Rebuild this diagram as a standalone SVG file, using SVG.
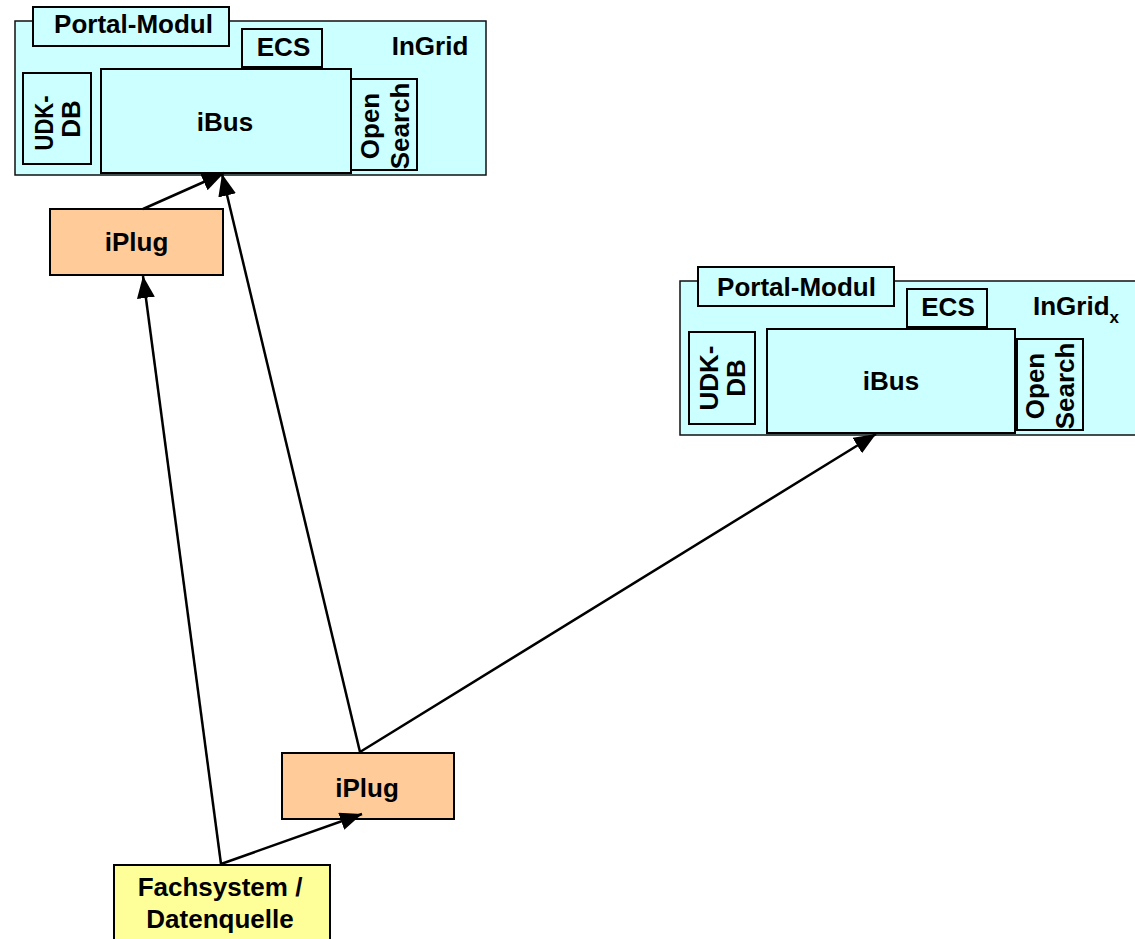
<svg xmlns="http://www.w3.org/2000/svg" width="1135" height="939" viewBox="0 0 1135 939">
<defs>
<style>
.bg{fill:#CCFFFF;stroke:#111;stroke-width:1.5}
.cy{fill:#CCFFFF;stroke:#000;stroke-width:2}
.or{fill:#FFCC99;stroke:#000;stroke-width:2}
.ye{fill:#FFFF99;stroke:#000;stroke-width:2}
text{font-family:"Liberation Sans",Arial,sans-serif;font-weight:bold;font-size:26px;fill:#000}
.m{text-anchor:middle}
.c{stroke:#000;stroke-width:2.5;fill:none;marker-end:url(#ah)}
</style>
<marker id="ah" markerUnits="userSpaceOnUse" markerWidth="24" markerHeight="20" refX="22" refY="9" orient="auto">
<path d="M0,0 L22,9 L0,18 z" fill="#000"/>
</marker>
</defs>
<rect width="1135" height="939" fill="#fff"/>

<g id="ingrid1">
<rect class="bg" x="15" y="21" width="471" height="154"/>
<text class="m" x="430" y="55">InGrid</text>
</g>
<g id="portal1">
<rect class="cy" x="33" y="7" width="196" height="39"/>
<text class="m" x="133.5" y="33">Portal-Modul</text>
</g>
<g id="ecs1">
<rect class="cy" x="242" y="29" width="80" height="38"/>
<text class="m" x="283.5" y="56">ECS</text>
</g>
<g id="udk1">
<rect class="cy" x="23" y="73" width="68" height="91"/>
<text class="m" transform="translate(53,123) rotate(-90)" textLength="55" lengthAdjust="spacingAndGlyphs">UDK-</text>
<text class="m" transform="translate(80,119) rotate(-90)">DB</text>
</g>
<g id="ibus1">
<rect class="cy" x="101" y="69" width="250" height="104"/>
<text class="m" x="225" y="131">iBus</text>
</g>
<g id="open1">
<rect class="cy" x="351" y="79" width="66" height="91"/>
<text class="m" transform="translate(379,126) rotate(-90)">Open</text>
<text class="m" transform="translate(409,126) rotate(-90)">Search</text>
</g>

<g id="ingrid2">
<rect class="bg" x="680" y="281" width="470" height="154"/>
<text x="1033" y="315">InGrid<tspan font-size="17" dy="8">x</tspan></text>
</g>
<g id="portal2">
<rect class="cy" x="698" y="267" width="196" height="39"/>
<text class="m" x="796.5" y="296">Portal-Modul</text>
</g>
<g id="ecs2">
<rect class="cy" x="907" y="289" width="80" height="38"/>
<text class="m" x="948" y="316">ECS</text>
</g>
<g id="udk2">
<rect class="cy" x="689" y="332" width="66" height="92"/>
<text class="m" transform="translate(718,378) rotate(-90)">UDK-</text>
<text class="m" transform="translate(745,378) rotate(-90)">DB</text>
</g>
<g id="ibus2">
<rect class="cy" x="767" y="329" width="248" height="104"/>
<text class="m" x="891" y="390">iBus</text>
</g>
<g id="open2">
<rect class="cy" x="1017" y="339" width="66" height="91"/>
<text class="m" transform="translate(1044,386) rotate(-90)">Open</text>
<text class="m" transform="translate(1074,386) rotate(-90)">Search</text>
</g>

<g id="iplug1">
<rect class="or" x="50" y="209" width="173" height="66"/>
<text class="m" x="136.5" y="251">iPlug</text>
</g>
<g id="iplug2">
<rect class="or" x="282" y="753" width="172" height="66"/>
<text class="m" x="367" y="797">iPlug</text>
</g>
<g id="fachsystem">
<rect class="ye" x="114" y="865" width="216" height="80"/>
<text class="m" x="220" y="896">Fachsystem /</text>
<text class="m" x="220" y="928">Datenquelle</text>
</g>

<g id="connectors">
<line class="c" x1="143" y1="209" x2="224" y2="173"/>
<line class="c" x1="360" y1="752" x2="222" y2="174"/>
<line class="c" x1="221" y1="864" x2="143" y2="276"/>
<line class="c" x1="221" y1="864" x2="362" y2="814"/>
<line class="c" x1="360" y1="752" x2="876" y2="434"/>
</g>
</svg>
